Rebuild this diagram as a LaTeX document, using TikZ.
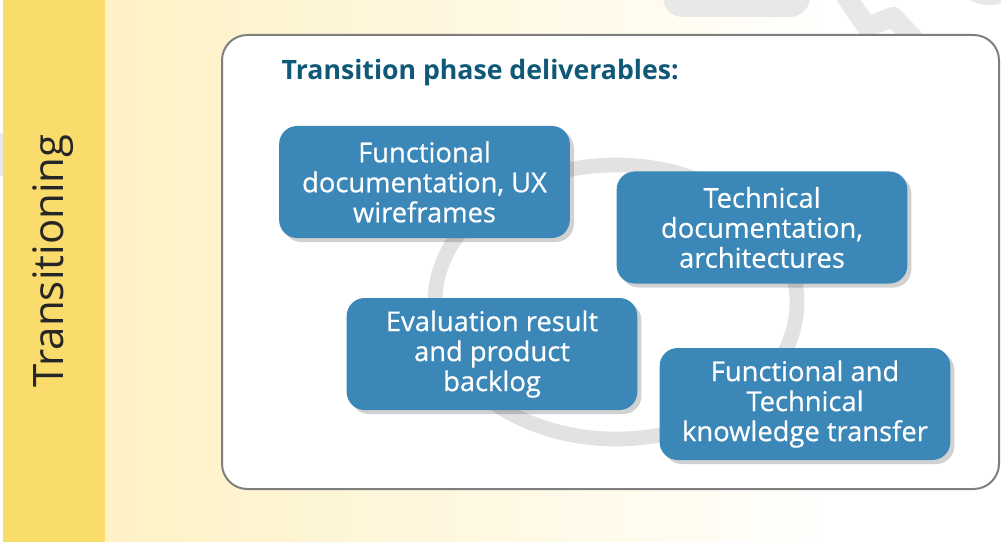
\documentclass[tikz,border=0pt]{standalone}
\usepackage{fontspec}
\setmainfont{Open Sans}
\newfontfamily\boxfont[FakeBold=0.6]{Open Sans}
\usetikzlibrary{shadows}
\definecolor{stripyellow}{HTML}{F9DC6C}
\definecolor{paleyellow}{HTML}{FEF1C4}
\definecolor{deliverblue}{HTML}{3A87B8}
\definecolor{titleteal}{HTML}{0F5877}
\definecolor{ringgray}{HTML}{E2E2E2}
\definecolor{decogray}{HTML}{E8E8E8}
\definecolor{framegray}{HTML}{7F7F7F}

\begin{document}
\begin{tikzpicture}[x=0.75pt,y=-0.75pt,
  deliverable/.style={fill=deliverblue, text=white, rounded corners=13.5pt,
    minimum width=218pt, minimum height=84pt, inner sep=0pt, align=center,
    font=\boxfont\fontsize{20.5}{22.5}\selectfont,
    drop shadow={shadow xshift=3pt, shadow yshift=-3pt, fill=black, opacity=0.18}}]
\useasboundingbox (0,0) rectangle (1001,542);
% background
\fill[white] (0,0) rectangle (1001,542);
\shade[left color=paleyellow, right color=white] (105,0) rectangle (850,542);
\fill[stripyellow] (3,0) rectangle (105,542);
\fill[decogray] (0,133) rectangle (3,176);
\fill[decogray, rounded corners=15] (663,-30) rectangle (810,17);
\draw[decogray, line width=15, line join=round] (845,-5) -- (867,27) -- (893,17) -- (915,40);
\fill[decogray] (990,-40) circle [radius=45];
\node[rotate=90, text=black!85, font=\fontsize{31.5}{38}\selectfont] (phase) at (53,261) {Transitioning};
% frame
\draw[framegray, line width=1.5pt, fill=white, rounded corners=19pt] (222,35) rectangle (999,489);
\draw[ringgray, line width=11pt] (616,302) ellipse [x radius=181, y radius=137];
\node[anchor=west, text=titleteal, font=\bfseries\fontsize{20}{22}\selectfont] (heading) at (277,73) {Transition phase deliverables:};
% deliverables
\node[deliverable] (func) at (424.5,182) {Functional\\documentation, UX\\wireframes};
\node[deliverable] (tech) at (762,227.5) {Technical\\documentation,\\architectures};
\node[deliverable] (eval) at (492,354) {Evaluation result\\and product\\backlog};
\node[deliverable] (transfer) at (805,404) {Functional and\\Technical\\knowledge transfer};
\end{tikzpicture}
\end{document}
